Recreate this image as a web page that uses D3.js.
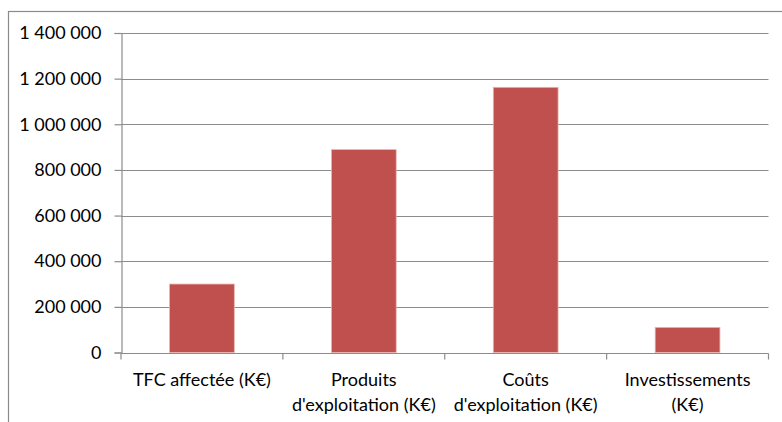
<!DOCTYPE html>
<html>
<head>
<meta charset="utf-8">
<script src="https://cdn.jsdelivr.net/npm/d3@7"></script>
<style>
  html, body { margin: 0; padding: 0; background: #fff; }
  svg { display: block; }
  text { font-family: Lato, "Open Sans", sans-serif; fill: #000; }
</style>
</head>
<body>
<svg id="chart" width="782" height="422"></svg>
<script>
// Chart data
const categories = [
  "TFC affectée (K€)",
  "Produits d'exploitation (K€)",
  "Coûts d'exploitation (K€)",
  "Investissements (K€)"
];
const values = [300000, 889000, 1162000, 110000];
const yTicks = [0, 200000, 400000, 600000, 800000, 1000000, 1200000, 1400000];

const W = 782, H = 422;
const margin = { left: 121, right: 13.5, top: 33, bottom: 69.5 };
const innerW = W - margin.left - margin.right;
const innerH = H - margin.top - margin.bottom;
const fontSize = 18;

const svg = d3.select("#chart");

// outer chart frame
svg.append("rect")
  .attr("x", 8.5).attr("y", 11.5)
  .attr("width", 800).attr("height", 440)
  .attr("fill", "none")
  .attr("stroke", "#8a8a8a")
  .attr("stroke-width", 1.2);

const g = svg.append("g").attr("transform", `translate(${margin.left},${margin.top})`);

const x = d3.scaleBand().domain(categories).range([0, innerW]).paddingInner(0.6).paddingOuter(0.3);
const y = d3.scaleLinear().domain([0, 1400000]).range([innerH, 0]);

const fmt = v => d3.format(",")(v).replace(/,/g, " ");

// horizontal gridlines
g.append("g").selectAll("line")
  .data(yTicks.filter(d => d > 0))
  .join("line")
  .attr("x1", 0).attr("x2", innerW)
  .attr("y1", d => Math.round(y(d)) + 0.5).attr("y2", d => Math.round(y(d)) + 0.5)
  .attr("stroke", "#8c8c8c").attr("stroke-width", 1.2);

// bars
g.append("g").selectAll("rect")
  .data(categories.map((c, i) => ({ c, v: values[i] })))
  .join("rect")
  .attr("x", d => x(d.c))
  .attr("y", d => y(d.v))
  .attr("width", x.bandwidth())
  .attr("height", d => innerH - y(d.v))
  .attr("fill", "#c0504d")
  .attr("stroke", "#e8b4b2")
  .attr("stroke-width", 0.8);

// y axis
const yAxis = d3.axisLeft(y).tickValues(yTicks).tickFormat(fmt).tickSize(7).tickPadding(13);
const ya = g.append("g").attr("transform", "translate(0.5,0)").call(yAxis);
ya.select(".domain").attr("stroke", "#8c8c8c").attr("stroke-width", 1.2);
ya.selectAll(".tick line").attr("stroke", "#8c8c8c").attr("stroke-width", 1.2);
ya.selectAll(".tick text").attr("font-size", fontSize).attr("font-family", "Lato, sans-serif").attr("fill", "#000");

// x axis: ticks on the category boundaries
const xa = g.append("g").attr("transform", `translate(0,${Math.round(innerH) + 0.5})`);
xa.append("line").attr("x1", 0).attr("x2", innerW)
  .attr("stroke", "#8c8c8c").attr("stroke-width", 1.2);
const bounds = d3.range(categories.length + 1).map(i => i * innerW / categories.length);
xa.selectAll("line.b").data(bounds).join("line").attr("class", "b")
  .attr("x1", d => d).attr("x2", d => d).attr("y1", 0).attr("y2", 6)
  .attr("stroke", "#8c8c8c").attr("stroke-width", 1.2);

// category labels, wrapped to fit under each category
const wrapWidth = 152;
const labels = xa.selectAll("text.cat")
  .data(categories).join("text").attr("class", "cat")
  .attr("x", d => x(d) + x.bandwidth() / 2)
  .attr("y", 32)
  .attr("text-anchor", "middle")
  .attr("font-size", fontSize);

labels.each(function (d) {
  const t = d3.select(this);
  const words = d.split(" ");
  const lines = [];
  let line = [];
  const probe = t.append("tspan");
  words.forEach(w => {
    const test = line.concat(w).join(" ");
    probe.text(test);
    if (probe.node().getComputedTextLength() > wrapWidth && line.length) {
      lines.push(line.join(" "));
      line = [w];
    } else {
      line.push(w);
    }
  });
  lines.push(line.join(" "));
  probe.remove();
  lines.forEach((l, i) => {
    t.append("tspan").attr("x", t.attr("x")).attr("dy", i === 0 ? 0 : 25).text(l);
  });
});
</script>
</body>
</html>
